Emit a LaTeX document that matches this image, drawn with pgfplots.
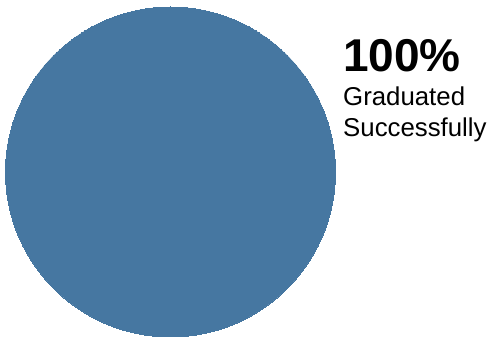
\documentclass[border=0pt]{standalone}
\usepackage{pgfplots}
\pgfplotsset{compat=1.18}
\usepackage{fontspec}
\setmainfont{Liberation Sans}
\definecolor{pieblue}{RGB}{70,119,161}
\begin{document}
\begin{tikzpicture}[x=1pt,y=1pt]
\useasboundingbox (0,0) rectangle (488,337);
\begin{axis}[at={(170.5pt,165pt)}, anchor=center, scale only axis,
  width=10pt, height=10pt, xmin=-1, xmax=1, ymin=-1, ymax=1,
  hide axis, clip=false]
\addplot[color=pieblue, only marks, mark=*, mark size=165pt,
  mark options={draw=pieblue, fill=pieblue, line width=0pt}] coordinates {(0,0)};
\end{axis}
\node[anchor=base west, inner sep=0pt] at (343,265) {\fontsize{46}{54}\selectfont\bfseries 100\%};
\node[anchor=base west, inner sep=0pt] at (343,231) {\fontsize{25.8}{30}\selectfont Graduated};
\node[anchor=base west, inner sep=0pt] at (343,200) {\fontsize{25.8}{30}\selectfont Successfully};
\end{tikzpicture}
\end{document}
